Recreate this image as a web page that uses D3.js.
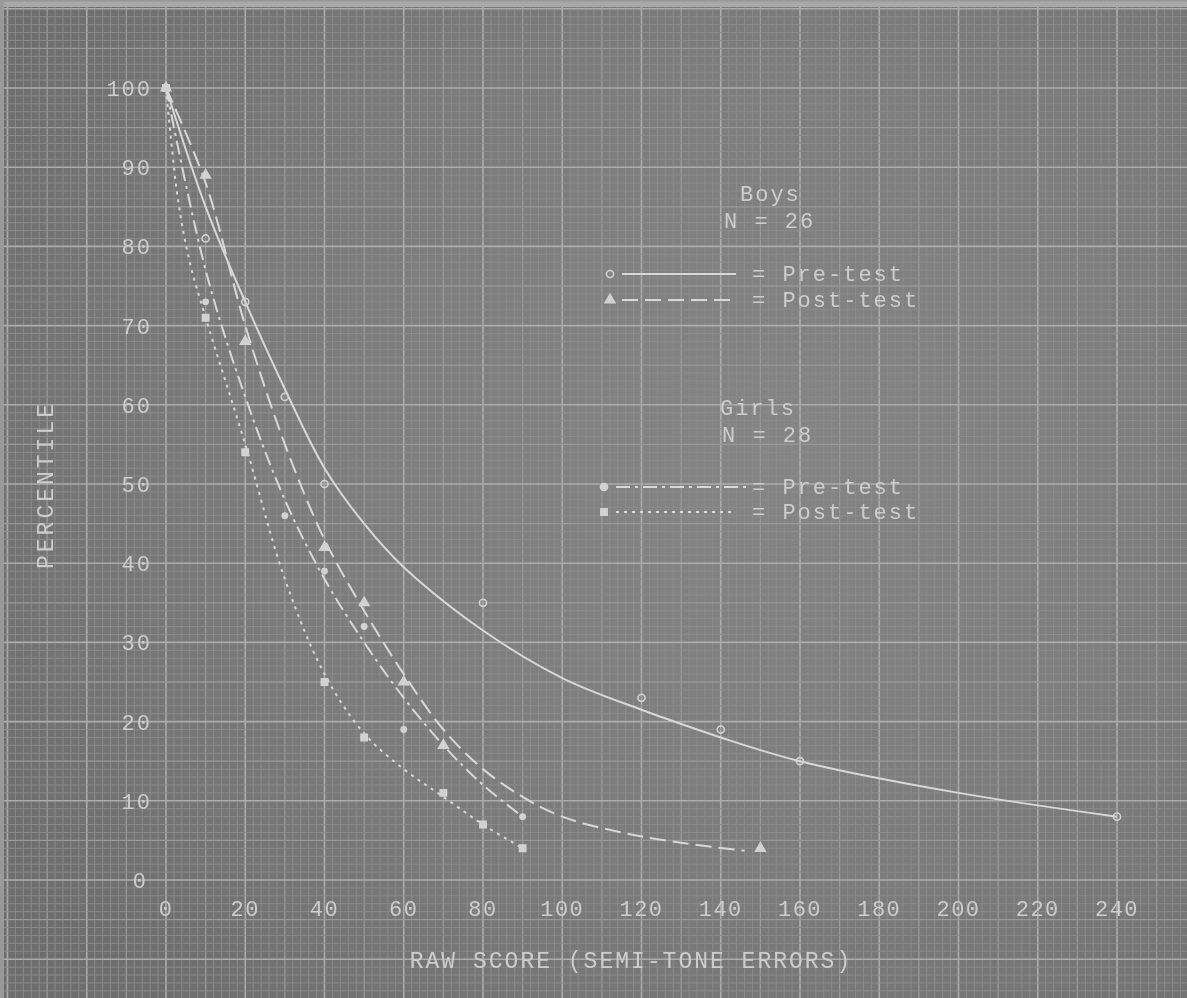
<!DOCTYPE html>
<html>
<head>
<meta charset="utf-8">
<script src="https://cdn.jsdelivr.net/npm/d3@7"></script>
<style>
  html, body { margin: 0; padding: 0; background: #777; }
  svg { display: block; }
  text { font-family: "Liberation Mono", "DejaVu Sans Mono", monospace; fill: #cdcdcd; }
</style>
</head>
<body>
<div id="chart"></div>
<script>
// tick labels
const xTicks = [0, 20, 40, 60, 80, 100, 120, 140, 160, 180, 200, 220, 240];
const yTicks = [0, 10, 20, 30, 40, 50, 60, 70, 80, 90, 100];

// Boys pre-test (solid, circles)
const boysPreX = [0, 10, 20, 30, 40, 80, 120, 140, 160, 240];
const boysPreY = [100, 81, 73, 61, 50, 35, 23, 19, 15, 8];
const boysPreFitX = [0, 10, 20, 30, 40, 50, 60, 80, 100, 120, 140, 160, 200, 240];
const boysPreFitY = [100, 85, 73, 62, 52, 45, 39.5, 31.5, 25.5, 21.5, 18, 15, 11, 8];

// Boys post-test (long dash, triangles)
const boysPostX = [0, 10, 20, 40, 50, 60, 70, 150];
const boysPostY = [100, 89, 68, 42, 35, 25, 17, 4];
const boysPostFitX = [0, 10, 20, 30, 40, 50, 60, 70, 80, 90, 100, 115, 130, 146];
const boysPostFitY = [100, 88, 70, 55, 43, 34, 26, 19, 14, 10.5, 8, 6, 4.7, 3.7];

// Girls pre-test (dash-dot, dots)
const girlsPreX = [0, 10, 30, 40, 50, 60, 90];
const girlsPreY = [100, 73, 46, 39, 32, 19, 8];
const girlsPreFitX = [0, 10, 20, 30, 40, 50, 60, 70, 80, 90];
const girlsPreFitY = [100, 77, 61, 48, 38, 30, 23, 17, 12, 8];

// Girls post-test (dotted, squares)
const girlsPostX = [0, 10, 20, 40, 50, 70, 80, 90];
const girlsPostY = [100, 71, 54, 25, 18, 11, 7, 4];
const girlsPostFitX = [0, 3, 6, 10, 20, 30, 40, 50, 60, 70, 80, 90];
const girlsPostFitY = [100, 86, 78, 71, 55, 38, 26, 18.5, 14, 10.5, 7, 4];

const width = 1187, height = 998;

const svg = d3.select("#chart").append("svg")
    .attr("width", width)
    .attr("height", height);

const defs = svg.append("defs");
const bg = defs.append("radialGradient").attr("id", "paper")
    .attr("cx", "65%").attr("cy", "45%").attr("r", "75%");
bg.append("stop").attr("offset", "0%").attr("stop-color", "#858585");
bg.append("stop").attr("offset", "60%").attr("stop-color", "#7b7b7b");
bg.append("stop").attr("offset", "100%").attr("stop-color", "#6e6e6e");
defs.append("filter").attr("id", "soft")
    .append("feGaussianBlur").attr("stdDeviation", 0.7);

svg.append("rect").attr("width", width).attr("height", height).attr("fill", "url(#paper)");
svg.append("rect").attr("width", width).attr("height", 7).attr("fill", "#a9a9a9");
svg.append("rect").attr("width", 4).attr("height", height).attr("fill", "#9a9a9a");

// scales
const x = d3.scaleLinear().domain([0, 240]).range([166, 1117]);
const y = d3.scaleLinear().domain([0, 100]).range([880, 88]);

// graph paper grid
const grid = svg.append("g").attr("class", "grid").attr("filter", "url(#soft)");
const gx = d3.range(-42, 264, 2);
const gy = d3.range(-16, 113, 1);
function gridStyle(v, major, mid) {
    if (v % major === 0) return {c: "#acacac", w: 1.6};
    if (v % mid === 0) return {c: "#999999", w: 1.3};
    return {c: "#8c8c8c", w: 0.9};
}
grid.selectAll("line.vx").data(gx).enter().append("line")
    .attr("x1", d => x(d)).attr("x2", d => x(d))
    .attr("y1", 7).attr("y2", height)
    .attr("stroke", d => gridStyle(d, 20, 10).c)
    .attr("stroke-width", d => gridStyle(d, 20, 10).w);
grid.selectAll("line.hy").data(gy).enter().append("line")
    .attr("y1", d => y(d)).attr("y2", d => y(d))
    .attr("x1", 4).attr("x2", width)
    .attr("stroke", d => gridStyle(d, 10, 5).c)
    .attr("stroke-width", d => gridStyle(d, 10, 5).w);

// tick labels
const ink = svg.append("g").attr("filter", "url(#soft)");
ink.selectAll("text.xt").data(xTicks).enter().append("text")
    .attr("x", d => x(d)).attr("y", 916)
    .attr("text-anchor", "middle")
    .style("font-size", "22px")
    .style("letter-spacing", "1.5px")
    .text(d => d);
ink.selectAll("text.yt").data(yTicks).enter().append("text")
    .attr("x", d => d === 0 ? 148 : 152).attr("y", d => y(d) + 8)
    .attr("text-anchor", "end")
    .style("font-size", "22px")
    .style("letter-spacing", "2px")
    .text(d => d);

ink.append("text")
    .attr("x", 631).attr("y", 968)
    .attr("text-anchor", "middle")
    .style("font-size", "23px")
    .style("letter-spacing", "2px")
    .text("RAW SCORE (SEMI-TONE ERRORS)");
ink.append("text")
    .attr("transform", "translate(53,485) rotate(-90)")
    .attr("text-anchor", "middle")
    .style("font-size", "23px")
    .style("letter-spacing", "3px")
    .text("PERCENTILE");

// curves
const series = [
    {px: boysPreX, py: boysPreY, fx: boysPreFitX, fy: boysPreFitY, dash: null, sym: d3.symbolCircle, fill: false},
    {px: boysPostX, py: boysPostY, fx: boysPostFitX, fy: boysPostFitY, dash: "16,7", sym: d3.symbolTriangle, fill: true},
    {px: girlsPreX, py: girlsPreY, fx: girlsPreFitX, fy: girlsPreFitY, dash: "14,5,3,5", sym: d3.symbolCircle, fill: true},
    {px: girlsPostX, py: girlsPostY, fx: girlsPostFitX, fy: girlsPostFitY, dash: "3,5", sym: d3.symbolSquare, fill: true}
];

const line = d3.line()
    .x(d => x(d[0]))
    .y(d => y(d[1]))
    .curve(d3.curveCatmullRom.alpha(0.5));

const plot = svg.append("g").attr("filter", "url(#soft)");
series.forEach(s => {
    plot.append("path")
        .datum(d3.zip(s.fx, s.fy))
        .attr("d", line)
        .attr("fill", "none")
        .attr("stroke", "#d8d8d8")
        .attr("stroke-width", 2)
        .attr("stroke-dasharray", s.dash);
    plot.selectAll(null).data(d3.zip(s.px, s.py)).enter().append("path")
        .attr("transform", d => `translate(${x(d[0])},${y(d[1])})`)
        .attr("d", d3.symbol().type(s.sym).size(s.sym === d3.symbolCircle && s.fill ? 22 : 40))
        .attr("fill", s.fill ? "#d2d2d2" : "none")
        .attr("stroke", "#d2d2d2")
        .attr("stroke-width", 1.6);
});

// legend
const leg = svg.append("g").attr("filter", "url(#soft)");
function legText(tx, ty, str) {
    leg.append("text").attr("x", tx).attr("y", ty)
        .style("font-size", "22px")
        .style("letter-spacing", "2px")
        .text(str);
}
legText(740, 201, "Boys");
legText(724, 228, "N = 26");
legText(752, 281, "= Pre-test");
legText(752, 307, "= Post-test");
legText(720, 415, "Girls");
legText(722, 442, "N = 28");
legText(752, 494, "= Pre-test");
legText(752, 519, "= Post-test");

const legRows = [
    {yy: 274, x0: 622, x1: 736, s: series[0]},
    {yy: 300, x0: 622, x1: 736, s: series[1]},
    {yy: 487, x0: 616, x1: 748, s: series[2]},
    {yy: 512, x0: 616, x1: 736, s: series[3]}
];
legRows.forEach(r => {
    leg.append("line")
        .attr("x1", r.x0).attr("x2", r.x1).attr("y1", r.yy).attr("y2", r.yy)
        .attr("stroke", "#d8d8d8").attr("stroke-width", 2)
        .attr("stroke-dasharray", r.s.dash);
    leg.append("path")
        .attr("transform", `translate(${r.x0 - 12},${r.yy})`)
        .attr("d", d3.symbol().type(r.s.sym).size(40))
        .attr("fill", r.s.fill ? "#d2d2d2" : "none")
        .attr("stroke", "#d2d2d2").attr("stroke-width", 1.6);
});
</script>
</body>
</html>
